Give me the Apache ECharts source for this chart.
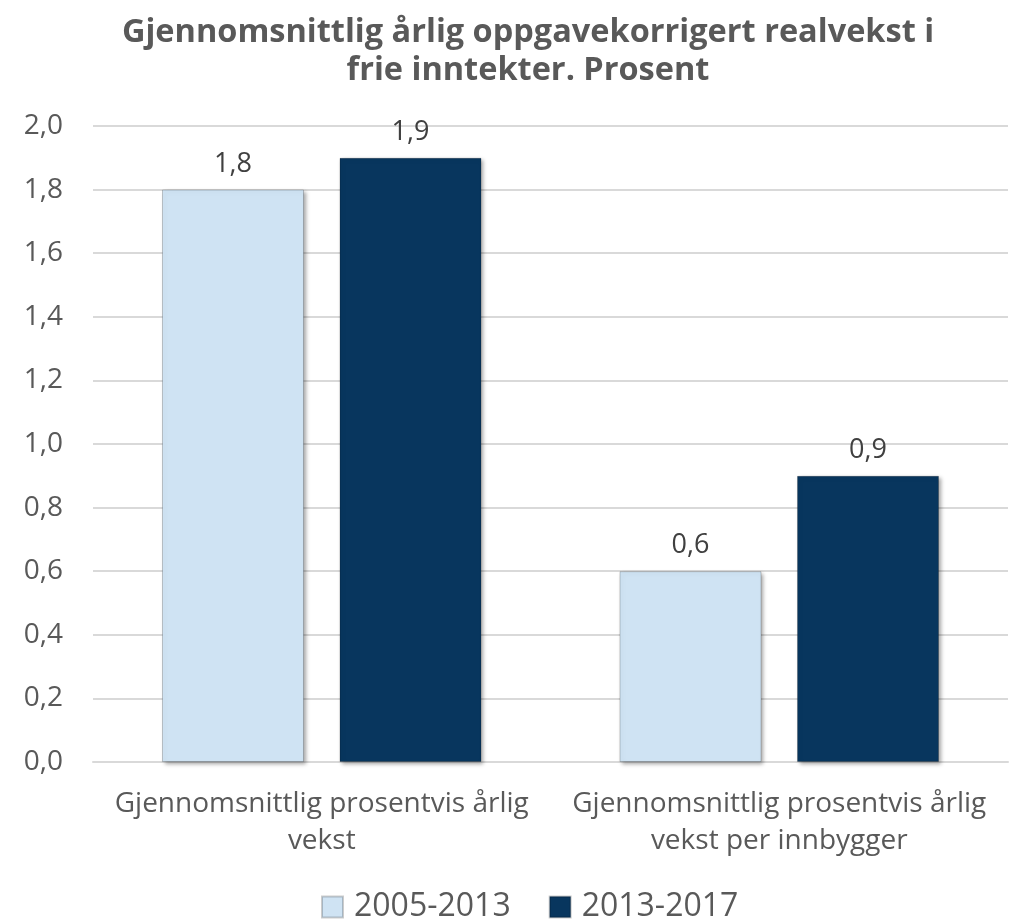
<!DOCTYPE html>
<html><head><meta charset="utf-8">
<script src="https://cdn.jsdelivr.net/npm/echarts@6/dist/echarts.min.js"></script>
<style>html,body{margin:0;padding:0;background:#fff}#c{width:1010px;height:920px}</style>
</head><body><div id="c"></div>
<script>
const categories = ['Gjennomsnittlig prosentvis årlig\nvekst', 'Gjennomsnittlig prosentvis årlig\nvekst per innbygger'];
const seriesNames = ['2005-2013', '2013-2017'];
const values2005_2013 = [1.8, 0.6];
const values2013_2017 = [1.9, 0.9];
const colors = ['#CFE3F3', '#08365E'];
const font = '"Open Sans", sans-serif';
const txt = '#595959';
const chart = echarts.init(document.getElementById('c'));
function mk(name, data, color){
  return {
    name, type:'bar', data, barWidth:142, barGap:'25%',
    itemStyle:{color, borderColor:'rgba(0,0,0,0.2)', borderWidth:1,
      shadowColor:'rgba(0,0,0,0.35)', shadowBlur:4, shadowOffsetX:2, shadowOffsetY:2},
    label:{show:true, position:'top', distance:12, fontFamily:font, fontSize:27, color:'#404040',
      formatter:p=>p.value.toFixed(1).replace('.',',')}
  };
}
chart.setOption({
  animation:false,
  title:{text:'Gjennomsnittlig årlig oppgavekorrigert realvekst i\nfrie inntekter. Prosent', left:523, top:9,
    textAlign:'center',
    textStyle:{fontFamily:font, fontWeight:'bold', fontSize:32.5, color:txt, lineHeight:38}},
  legend:{top:886, left:316, itemWidth:21, itemHeight:21, itemGap:38, icon:'rect',
    textStyle:{fontFamily:font, fontSize:32, color:txt, padding:[0,0,0,6]}, data:seriesNames},
  grid:{left:93, right:2, top:126, bottom:158},
  xAxis:{type:'category', data:categories,
    axisLine:{lineStyle:{color:'#D9D9D9', width:2}}, axisTick:{show:false},
    axisLabel:{interval:0, fontFamily:font, fontSize:28, color:txt, lineHeight:37, margin:24}},
  yAxis:{type:'value', min:0, max:2, interval:0.2,
    axisLine:{show:false}, axisTick:{show:false},
    splitLine:{lineStyle:{color:'#D9D9D9', width:2}},
    axisLabel:{fontFamily:font, fontSize:28, color:txt, margin:30,
      formatter:v=>v.toFixed(1).replace('.',',')}},
  color:colors,
  series:[mk(seriesNames[0], values2005_2013, colors[0]), mk(seriesNames[1], values2013_2017, colors[1])]
});
</script></body></html>
